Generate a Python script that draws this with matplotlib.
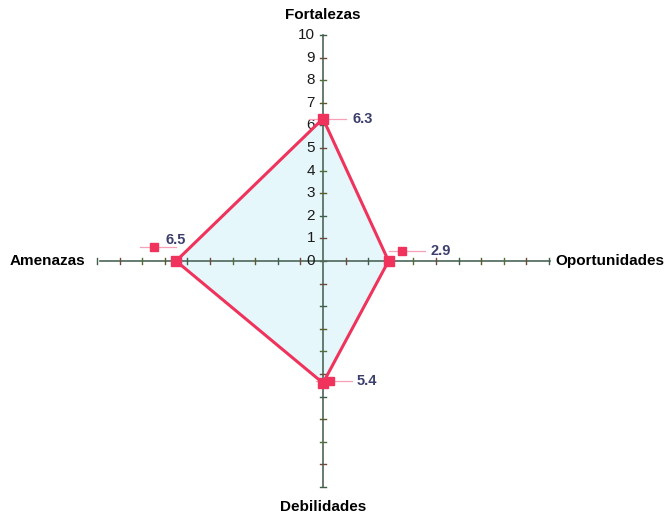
import matplotlib
matplotlib.use("Agg")
import matplotlib.pyplot as plt

# SWOT (FODA) quadrant chart
categories = ["Fortalezas", "Oportunidades", "Debilidades", "Amenazas"]
values = [6.3, 2.9, 5.4, 6.5]
value_labels = ["6.3", "2.9", "5.4", "6.5"]
tick_values = list(range(0, 11))

# unit direction for each axis (up, right, down, left)
DIRS = {"Fortalezas": (0, 1), "Oportunidades": (1, 0),
        "Debilidades": (0, -1), "Amenazas": (-1, 0)}
RED = "#f0335c"
AXIS = "#4d6658"
TICK_COLS = ["#4f6f3a", "#6a4a3a", "#3d5f4a", "#5a5a2a"]
VAL_INK = "#3c3f6e"

U = 22.6  # pixels per unit
W, H = 665, 514
CX, CY = 323, 261

fig = plt.figure(figsize=(W / 100, H / 100), dpi=100)
ax = fig.add_axes([0, 0, 1, 1])
ax.set_xlim(-CX / U, (W - CX) / U)
ax.set_ylim(-(H - CY) / U, CY / U)
ax.set_aspect("equal")
ax.axis("off")

# polygon
pts = [(DIRS[c][0] * v, DIRS[c][1] * v) for c, v in zip(categories, values)]
xs = [p[0] for p in pts] + [pts[0][0]]
ys = [p[1] for p in pts] + [pts[0][1]]
ax.fill(xs, ys, color="#e6f7fb", zorder=1)

# axes lines
ax.plot([-9.87, 10.04], [0, 0], color=AXIS, lw=1.2, zorder=2)
ax.plot([0, 0], [-10, 10], color=AXIS, lw=1.2, zorder=2)
tl = 0.13
for i in range(1, 11):
    col = TICK_COLS[i % len(TICK_COLS)]
    for sx in (1, -1):
        ax.plot([sx * i, sx * i], [-tl, tl], color=col, lw=1.0, zorder=2)
        ax.plot([-tl, tl], [sx * i, sx * i], color=col, lw=1.0, zorder=2)
ax.plot([-tl, tl], [0, 0], color=AXIS, lw=1.0, zorder=2)

for t in tick_values:
    ax.text(-0.35, t, str(t), ha="right", va="center", fontsize=11,
            color="#1a1a1a", family="Liberation Sans", zorder=3)

ax.plot(xs, ys, color=RED, lw=2.2, zorder=4, solid_joinstyle="miter")
ax.plot(xs[:-1], ys[:-1], "s", color=RED, ms=7.5, zorder=5)

# value labels with small marker + leader line
lab_off = {"Fortalezas": (0.0, 0.0, 1.3, 0.0),
           "Oportunidades": (0.6, 0.45, 1.85, 0.45),
           "Debilidades": (0.3, 0.1, 1.5, 0.1),
           "Amenazas": (-1.0, 0.6, -0.45, 0.95)}
for c, v, lab in zip(categories, values, value_labels):
    px, py = DIRS[c][0] * v, DIRS[c][1] * v
    mx, my, tx, ty = lab_off[c]
    ax.plot([px + mx - 0.6, px + mx + 1.0], [py + my, py + my],
            color="#f7a0b8", lw=0.9, zorder=3)
    ax.plot(px + mx, py + my, "s", color=RED, ms=5.5, zorder=5)
    ax.text(px + tx, py + ty, lab, ha="left", va="center", fontsize=10.5,
            fontweight="bold", color=VAL_INK, family="Liberation Sans",
            zorder=6)

# axis names
name_kw = dict(fontsize=11, fontweight="bold", family="Liberation Sans")
ax.text(0, 10.9, "Fortalezas", ha="center", va="center", **name_kw)
ax.text(-10.5, 0, "Amenazas", ha="right", va="center", **name_kw)
ax.text(10.3, 0, "Oportunidades", ha="left", va="center", **name_kw)
ax.text(0, -10.9, "Debilidades", ha="center", va="center", **name_kw)

fig.savefig("out.png", dpi=100, facecolor="white")
